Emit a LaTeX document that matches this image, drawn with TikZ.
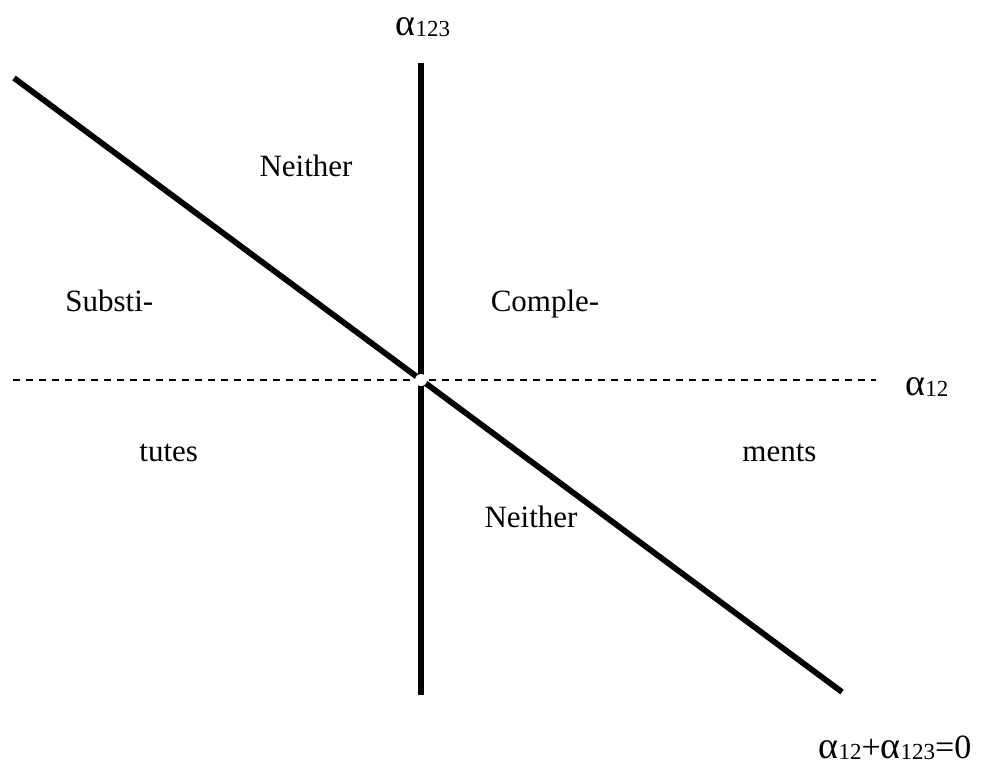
\documentclass[tikz,border=0pt]{standalone}
\usepackage{fontspec}
\setmainfont{Liberation Serif}
\newcommand\subsc[1]{\raisebox{-0.05em}{\fontsize{11.5}{12}\selectfont #1}}
\newcommand\alp{{\fontsize{19}{20}\selectfont α}}
\tikzset{
  lbl/.style={anchor=base, inner sep=0pt, font=\fontsize{15.5}{18}\selectfont},
  axis/.style={line width=2.9pt},
  refline/.style={line width=0.6pt, dash pattern=on 3.5pt off 3pt},
}
\begin{document}
\begin{tikzpicture}[x=0.5pt,y=-0.5pt]
\useasboundingbox (0,0) rectangle (984,767);
\coordinate (vtop) at (421,63);
\coordinate (vbot) at (421,695);
\coordinate (dtl) at (14,78);
\coordinate (dbr) at (842,692);
\coordinate (hl) at (13,380);
\coordinate (hr) at (876,380);
\coordinate (o) at (421,380);
\draw[refline] (hl) -- (hr);
\draw[axis] (vtop) -- (vbot);
\draw[axis] (dtl) -- (dbr);
\fill[white] (o) circle (6);
\node[lbl] (a123) at (423,35) {\alp\subsc{123}};
\node[lbl] (a12) at (927,395) {\alp\subsc{12}};
\node[lbl] (eq) at (895,758) {\alp\subsc{12}{\fontsize{17}{18}\selectfont +}\alp\subsc{123}{\fontsize{17}{18}\selectfont =0}};
\node[lbl] (n1) at (306,176) {Neither};
\node[lbl] (n2) at (531,527) {Neither};
\node[lbl,anchor=base west] (s1) at (65,311) {Substi-};
\node[lbl,anchor=base west] (s2) at (139,461) {tutes};
\node[lbl] (c1) at (545,311) {Comple-};
\node[lbl,anchor=base west] (c2) at (742,461) {ments};
\end{tikzpicture}
\end{document}
